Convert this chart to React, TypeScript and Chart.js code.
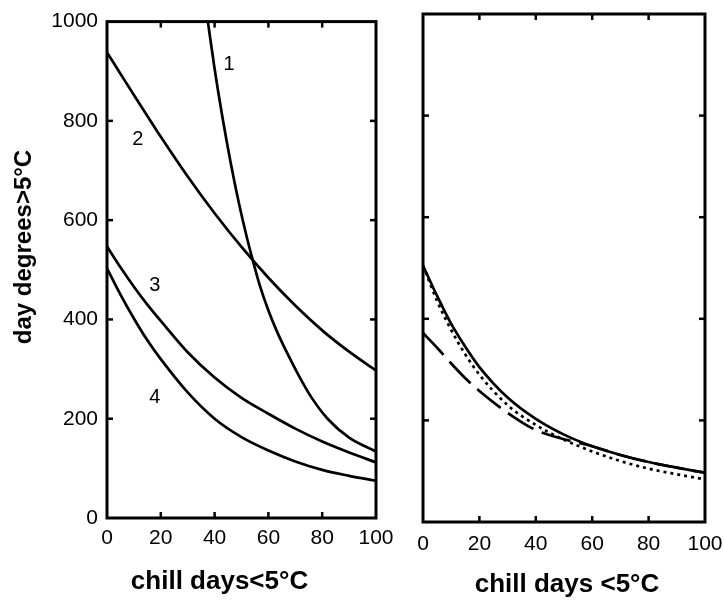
import React, { useEffect, useRef } from "react";
import { Chart, registerables } from "chart.js";

Chart.register(...registerables);

// ---------- data ----------
const chillDays = [0, 5, 10, 15, 20, 30, 40, 50, 60, 70, 80, 90, 100];

// left panel
const curve1Days = [37.5, 40, 43, 46, 49, 52, 54.3, 57, 60, 63, 67, 71, 76, 82, 90, 100];
const curve1 = [1000, 905, 805, 715, 635, 565, 517, 465, 418, 378, 332, 290, 243, 200, 162, 134];
const curve2 = [938, 895, 852, 810, 768, 688, 614, 546, 484, 428, 378, 335, 297];
const curve3 = [547, 505, 466, 430, 397, 334, 283, 242, 210, 180, 154, 132, 112];
const curve4 = [503, 450, 402, 358, 320, 253, 200, 163, 136, 114, 97, 85, 75];

const curveLabels = ["1", "2", "3", "4"];
const curveLabelX = [45.4, 11.5, 17.8, 17.8];
const curveLabelY = [914, 763, 469, 242];

// right panel
const rightSolid = [505, 445, 390, 345, 305, 245, 203, 172, 149, 132, 118, 107, 97];
const rightDotted = [505, 435, 378, 330, 290, 230, 191, 162, 139, 120, 105, 94, 84];
const rightDashed = [372, 343, 312, 283, 258, 215, 181, 163, 149, 132, 118, 107, 97];

const xTicks = [0, 20, 40, 60, 80, 100];
const yTicks = [0, 200, 400, 600, 800, 1000];

const xTitleLeft = "chill days<5°C";
const xTitleRight = "chill days <5°C";
const yTitle = "day degrees>5°C";

// ---------- helpers ----------
const FONT = "'Liberation Sans', Arial, Helvetica, sans-serif";

const pts = (xs: number[], ys: number[]) => xs.map((x, i) => ({ x, y: ys[i] }));

const framePlugin = {
  id: "frame",
  afterDatasetsDraw(chart: any, _args: any, opts: any) {
    const { ctx, chartArea: a, scales } = chart;
    const xs = scales.x;
    const ys = scales.y;
    ctx.save();
    ctx.strokeStyle = "#000";
    ctx.fillStyle = "#000";
    ctx.lineWidth = 3;
    ctx.strokeRect(a.left, a.top, a.right - a.left, a.bottom - a.top);
    ctx.lineWidth = 2.5;
    const L = 6;
    const seg = (x1: number, y1: number, x2: number, y2: number) => {
      ctx.beginPath();
      ctx.moveTo(x1, y1);
      ctx.lineTo(x2, y2);
      ctx.stroke();
    };
    xTicks.forEach((v) => {
      if (v <= xs.min || v >= xs.max) return;
      const p = xs.getPixelForValue(v);
      seg(p, a.bottom, p, a.bottom - L);
      seg(p, a.top, p, a.top + L);
    });
    yTicks.forEach((v) => {
      if (v <= ys.min || v >= ys.max) return;
      const p = ys.getPixelForValue(v);
      seg(a.left, p, a.left + L, p);
      seg(a.right, p, a.right - L, p);
    });

    // curve labels
    if (opts.labels) {
      ctx.font = `20px ${FONT}`;
      ctx.textAlign = "center";
      ctx.textBaseline = "middle";
      curveLabels.forEach((t, i) => {
        ctx.fillText(t, xs.getPixelForValue(curveLabelX[i]), ys.getPixelForValue(curveLabelY[i]));
      });
    }

    // axis titles
    ctx.textAlign = "center";
    ctx.textBaseline = "middle";
    if (opts.xTitle) {
      ctx.font = `bold 26px ${FONT}`;
      ctx.fillText(opts.xTitle, opts.xTitleX, opts.xTitleY);
    }
    if (opts.yTitle) {
      ctx.save();
      ctx.translate(opts.yTitleX, opts.yTitleY);
      ctx.rotate(-Math.PI / 2);
      ctx.font = `bold 24px ${FONT}`;
      ctx.fillText(opts.yTitle, 0, 0);
      ctx.restore();
    }
    ctx.restore();
  },
};

function makeOptions(cfg: {
  yWidth: number;
  xHeight: number;
  padTop: number;
  padRight: number;
  showY: boolean;
  xOffset: number;
  frame: any;
}) {
  return {
    animation: false,
    responsive: false,
    events: [],
    layout: { padding: { top: cfg.padTop, right: cfg.padRight, left: 0, bottom: 0 } },
    plugins: {
      legend: { display: false },
      tooltip: { enabled: false },
      title: { display: false },
      frame: cfg.frame,
    },
    scales: {
      x: {
        type: "linear",
        min: 0,
        max: 100,
        afterFit: (s: any) => {
          s.height = cfg.xHeight;
        },
        afterBuildTicks: (s: any) => {
          s.ticks = xTicks.map((v) => ({ value: v }));
        },
        grid: { display: false, drawTicks: true, tickLength: cfg.xOffset },
        border: { display: false },
        ticks: {
          color: "#000",
          padding: 0,
          autoSkip: false,
          maxRotation: 0,
          font: { family: FONT, size: 21 },
          callback: (v: any) => String(v),
        },
      },
      y: {
        type: "linear",
        min: 0,
        max: 1000,
        afterFit: (s: any) => {
          s.width = cfg.yWidth;
        },
        afterBuildTicks: (s: any) => {
          s.ticks = yTicks.map((v) => ({ value: v }));
        },
        grid: { display: false, drawTicks: false },
        border: { display: false },
        ticks: {
          display: cfg.showY,
          color: "#000",
          padding: 9,
          font: { family: FONT, size: 21 },
          callback: (v: any) => String(v),
        },
      },
    },
  };
}

const lineDs = (data: any[], dash: number[] = [], width = 2.7) => ({
  data,
  borderColor: "#000",
  backgroundColor: "#000",
  borderWidth: width,
  borderDash: dash,
  pointRadius: 0,
  fill: false,
  cubicInterpolationMode: "monotone",
  borderCapStyle: "butt",
});

export default function App() {
  const leftRef = useRef<HTMLCanvasElement | null>(null);
  const rightRef = useRef<HTMLCanvasElement | null>(null);

  useEffect(() => {
    const left = new Chart(leftRef.current as HTMLCanvasElement, {
      type: "line",
      data: {
        datasets: [
          lineDs(pts(curve1Days, curve1)),
          lineDs(pts(chillDays, curve2)),
          lineDs(pts(chillDays, curve3)),
          lineDs(pts(chillDays, curve4)),
        ],
      },
      options: makeOptions({
        yWidth: 107,
        xHeight: 83,
        padTop: 19,
        padRight: 24,
        showY: true,
        xOffset: 8,
        frame: {
          labels: true,
          xTitle: xTitleLeft,
          xTitleX: 219.5,
          xTitleY: 582,
          yTitle: yTitle,
          yTitleX: 24,
          yTitleY: 247,
        },
      }) as any,
      plugins: [framePlugin as any],
    });

    const right = new Chart(rightRef.current as HTMLCanvasElement, {
      type: "line",
      data: {
        datasets: [
          lineDs(pts(chillDays, rightSolid)),
          lineDs(pts(chillDays, rightDotted), [3, 4]),
          lineDs(pts(chillDays, rightDashed), [30, 9]),
        ],
      },
      options: makeOptions({
        yWidth: 23,
        xHeight: 79,
        padTop: 14,
        padRight: 19,
        showY: false,
        xOffset: 10,
        frame: {
          labels: false,
          xTitle: xTitleRight,
          xTitleX: 167,
          xTitleY: 585,
        },
      }) as any,
      plugins: [framePlugin as any],
    });

    return () => {
      left.destroy();
      right.destroy();
    };
  }, []);

  return (
    <div
      style={{
        position: "absolute",
        left: 0,
        top: 0,
        width: 724,
        height: 601,
        background: "#fff",
      }}
    >
      <canvas
        ref={leftRef}
        width={400}
        height={601}
        style={{ position: "absolute", left: 0, top: 0, width: 400, height: 601 }}
      />
      <canvas
        ref={rightRef}
        width={324}
        height={601}
        style={{ position: "absolute", left: 400, top: 0, width: 324, height: 601 }}
      />
    </div>
  );
}
